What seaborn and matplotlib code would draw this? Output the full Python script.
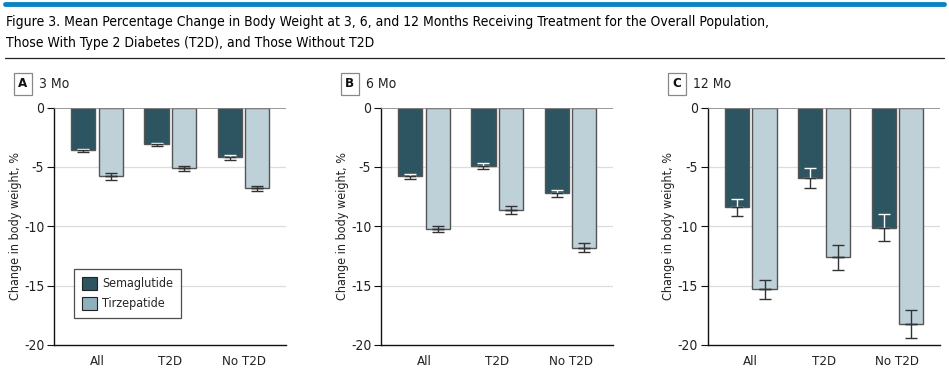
import matplotlib
matplotlib.use("Agg")
import matplotlib.pyplot as plt
from matplotlib.patches import Patch
from matplotlib.lines import Line2D
import pandas as pd
import seaborn as sns

groups = ["All", "T2D", "No T2D"]
drugs = ["Semaglutide", "Tirzepatide"]
panels = ["A", "B", "C"]
panel_titles = ["3 Mo", "6 Mo", "12 Mo"]

# mean % change, order = groups
sema_mean = [[-3.6, -3.1, -4.2], [-5.8, -4.9, -7.2], [-8.4, -5.9, -10.1]]
tirz_mean = [[-5.8, -5.1, -6.8], [-10.2, -8.6, -11.8], [-15.3, -12.6, -18.2]]
# half-width of error bars
sema_err = [[0.12, 0.15, 0.17], [0.24, 0.27, 0.3], [0.72, 0.83, 1.1]]
tirz_err = [[0.27, 0.2, 0.21], [0.25, 0.35, 0.37], [0.8, 1.04, 1.17]]

sema_color = "#2d5461"
tirz_color = "#bed1d9"
tirz_legend = "#8fb1be"

sns.set_theme(style="white")
plt.rcParams["font.family"] = ["DejaVu Sans"]
plt.rcParams["font.stretch"] = "condensed"

fig = plt.figure(figsize=(9.49, 3.72), dpi=100)
lefts = [0.057, 0.4015, 0.746]

for i in range(3):
    ax = fig.add_axes([lefts[i], 0.0726, 0.2445, 0.638])
    df = pd.DataFrame({
        "group": groups * 2,
        "drug": [drugs[0]] * 3 + [drugs[1]] * 3,
        "value": sema_mean[i] + tirz_mean[i],
    })
    sns.barplot(data=df, x="group", y="value", hue="drug", order=groups,
                hue_order=drugs, palette=[sema_color, tirz_color],
                saturation=1, width=0.75, gap=0.12, errorbar=None,
                edgecolor="#555555", linewidth=1.0, legend=False, ax=ax,
                zorder=3)

    bars = ax.patches
    errs = sema_err[i] + tirz_err[i]
    means = sema_mean[i] + tirz_mean[i]
    for k, bar in enumerate(bars[:6]):
        xc = bar.get_x() + bar.get_width() / 2
        m = means[k]
        e = errs[k]
        # part of the bar inside the dark bars is drawn white
        top_col = "white" if k < 3 else "#333333"
        ax.errorbar([xc], [m], yerr=[[0], [e]], fmt="none", ecolor=top_col,
                    elinewidth=1.0, capsize=4, capthick=1.0, zorder=4)
        ax.errorbar([xc], [m], yerr=[[e], [0]], fmt="none", ecolor="#333333",
                    elinewidth=1.0, capsize=4, capthick=1.0, zorder=4)

    ax.set_ylim(-20, 0)
    ax.set_xlim(-0.584, 2.58)
    ax.set_yticks([0, -5, -10, -15, -20])
    ax.set_yticklabels(["0", "-5", "-10", "-15", "-20"])
    for yv in [-5, -10, -15]:
        ax.axhline(yv, color="#dddddd", lw=0.9, zorder=0)
    ax.axhline(0, color="#888888", lw=1.2, zorder=5)
    ax.spines["top"].set_visible(False)
    ax.spines["right"].set_visible(False)
    ax.spines["left"].set_color("#111111")
    ax.spines["bottom"].set_color("#111111")
    ax.spines["left"].set_linewidth(1.0)
    ax.spines["bottom"].set_linewidth(1.0)
    ax.tick_params(axis="y", left=True, length=5, width=0.8, color="#111111",
                   labelsize=10, pad=2, labelcolor="#222222")
    ax.tick_params(axis="x", bottom=False, labelsize=9.5, pad=1,
                   labelcolor="#222222")
    ax.set_xlabel("")
    ax.set_ylabel("Change in body weight, %", fontsize=9, color="#222222")
    ax.yaxis.set_label_coords(-0.14, 0.5)

    ax.text(-0.135, 1.1, panels[i], transform=ax.transAxes, fontsize=9.5,
            fontweight="bold", ha="center", va="center", color="#111111",
            bbox=dict(boxstyle="square,pad=0.35", fc="white", ec="#888888", lw=0.9))
    ax.text(-0.063, 1.1, panel_titles[i], transform=ax.transAxes, fontsize=10,
            ha="left", va="center", color="#222222")

    if i == 0:
        handles = [Patch(facecolor=sema_color, edgecolor="#222222", lw=0.8),
                   Patch(facecolor=tirz_legend, edgecolor="#222222", lw=0.8)]
        leg = ax.legend(handles, drugs, loc="lower left",
                        bbox_to_anchor=(0.086, 0.114), borderaxespad=0,
                        fontsize=9, frameon=True, fancybox=False,
                        edgecolor="#222222", handlelength=1.25, handleheight=1.25,
                        borderpad=0.6, labelspacing=0.5, handletextpad=0.4)
        leg.get_frame().set_linewidth(0.9)

fig.add_artist(Line2D([0.005, 0.995], [0.99, 0.99], color="#0a84c1", lw=3.5))
fig.add_artist(Line2D([0.005, 0.995], [0.845, 0.845], color="#222222", lw=0.9))
fig.text(0.006, 0.94, "Figure 3. Mean Percentage Change in Body Weight at 3, 6, and 12 Months "
         "Receiving Treatment for the Overall Population,",
         fontsize=10, color="#000000", va="center", ha="left")
fig.text(0.006, 0.885, "Those With Type 2 Diabetes (T2D), and Those Without T2D",
         fontsize=10, color="#000000", va="center", ha="left")

fig.savefig("out.png", dpi=100)
